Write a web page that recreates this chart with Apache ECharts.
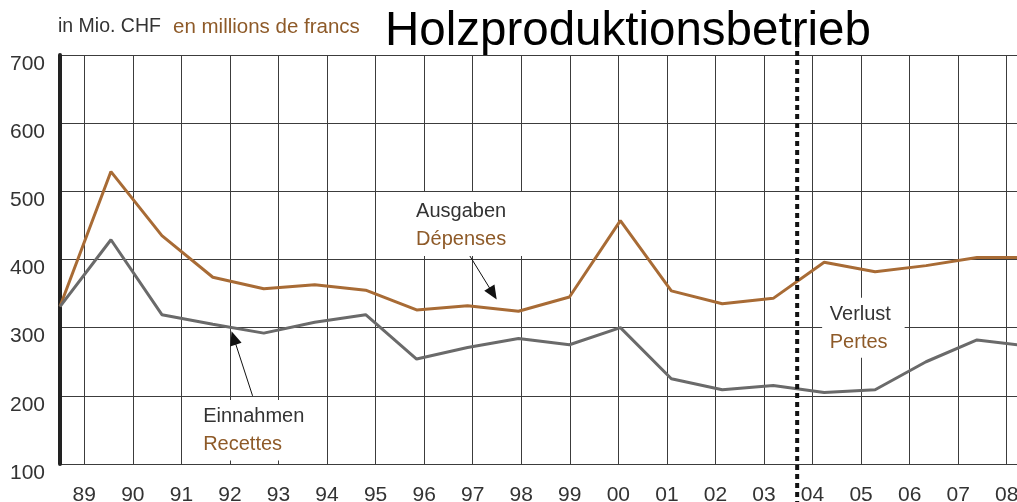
<!DOCTYPE html>
<html>
<head>
<meta charset="utf-8">
<script src="https://cdn.jsdelivr.net/npm/echarts@6/dist/echarts.min.js"></script>
<style>
html,body{margin:0;padding:0;background:#fff;overflow:hidden;}
#chart{width:1017px;height:502px;}
</style>
</head>
<body>
<div id="chart"></div>
<script>
// ---- data ----
const years = ['89','90','91','92','93','94','95','96','97','98','99','00','01','02','03','04','05','06','07','08'];
const ausgaben = [331, 529, 435, 374, 357, 363, 355, 326, 332, 324, 345, 457, 354, 335, 343, 396, 382, 391, 403, 403];
const einnahmen = [331, 429, 319, 305, 292, 308, 319, 254, 271, 284, 275, 300, 225, 209, 215, 205, 209, 250, 282, 273];
const yTicks = [100, 700, 100]; // min, max, interval
const lossStart = 14.47; // position of dotted separator (data index units)

// annotation anchors (data index units, values)
const annAusgaben = { text: ['Ausgaben', 'Dépenses'], at: [6.99, 470], box: [6.38, 499, 9.07, 405], arrow: [[8.03, 407], [8.50, 350]] };
const annEinnahmen = { text: ['Einnahmen', 'Recettes'], at: [2.81, 170], box: [2.55, 194, 5.06, 105], arrow: [[3.78, 200], [3.41, 285]] };
const annVerlust = { text: ['Verlust', 'Pertes'], at: [15.11, 319], box: [14.96, 344, 16.58, 256] };

const DARK = '#333333', BROWN = '#8E5A28', ORANGE = '#A86B35', GRAY = '#6A6A6A', GRID = '#3c3c3c';
const FONT = '"Liberation Sans", Arial, sans-serif';

// half-step slots so that labels/gridlines sit where the original has them
const slots = [];
for (let i = 0; i <= years.length * 2; i++) slots.push(i % 2 === 1 ? years[(i - 1) / 2] : '');

const chart = echarts.init(document.getElementById('chart'), null, { renderer: 'canvas' });

function arrowLine(a) {
  return [{ coord: a.arrow[0] }, { coord: a.arrow[1] }];
}

const option = {
  animation: false,
  backgroundColor: '#fff',
  grid: { left: 60, right: -14, top: 55, bottom: 38, containLabel: false, outerBoundsMode: 'none' },
  xAxis: [
    {
      type: 'category', data: slots, boundaryGap: false,
      axisLine: { show: false }, axisTick: { show: false },
      axisLabel: { interval: (i) => i % 2 === 1, color: DARK, fontSize: 21, fontFamily: FONT, margin: 21 },
      splitLine: { show: true, interval: (i) => i % 2 === 1, lineStyle: { color: GRID, width: 1 } }
    },
    {
      type: 'value', min: 0, max: 19.06, show: false
    }
  ],
  yAxis: {
    type: 'value', min: yTicks[0], max: yTicks[1], interval: yTicks[2],
    axisLine: { show: true, lineStyle: { color: '#222', width: 4 } },
    axisTick: { show: false },
    axisLabel: { color: DARK, fontSize: 21, fontFamily: FONT, margin: 15, verticalAlign: 'top', lineHeight: 18 },
    splitLine: { show: true, lineStyle: { color: GRID, width: 1 } }
  },
  series: [
    {
      name: 'Ausgaben', type: 'line', xAxisIndex: 1, yAxisIndex: 0,
      data: ausgaben.map((v, i) => [i, v]), symbol: 'none',
      lineStyle: { color: ORANGE, width: 3 }, z: 5,
      markLine: {
        silent: true, symbol: ['none', 'triangle'], symbolSize: [12, 14],
        label: { show: false },
        lineStyle: { color: '#111', width: 1, type: 'solid' },
        data: [arrowLine(annAusgaben)]
      }
    },
    {
      name: 'Einnahmen', type: 'line', xAxisIndex: 1, yAxisIndex: 0,
      data: einnahmen.map((v, i) => [i, v]), symbol: 'none',
      lineStyle: { color: GRAY, width: 3 }, z: 5,
      markLine: {
        silent: true, symbol: ['none', 'triangle'], symbolSize: [12, 14],
        label: { show: false },
        lineStyle: { color: '#111', width: 1, type: 'solid' },
        data: [arrowLine(annEinnahmen)]
      }
    }
  ]
};
chart.setOption(option);

function px(p) { return chart.convertToPixel({ seriesIndex: 0 }, p); }

const graphics = [];
// header texts
graphics.push({ type: 'text', z: 20, style: { text: 'in Mio. CHF', x: 58, y: 27, fill: DARK, fontSize: 19.5, fontFamily: FONT, verticalAlign: 'middle', align: 'left' } });
graphics.push({ type: 'text', z: 20, style: { text: 'en millions de francs', x: 173, y: 27, fill: BROWN, fontSize: 20.5, fontFamily: FONT, verticalAlign: 'middle', align: 'left' } });
graphics.push({ type: 'text', z: 20, style: { text: 'Holzproduktionsbetrieb', x: 385, y: 32, fill: '#000', fontSize: 47.5, fontFamily: FONT, verticalAlign: 'middle', align: 'left' } });

// dotted separator
const sepTop = px([lossStart, 700]);
graphics.push({ type: 'line', z: 15, shape: { x1: sepTop[0], y1: 33, x2: sepTop[0], y2: 502 }, style: { stroke: '#111', lineWidth: 4, lineDash: [5, 4] } });

[annAusgaben, annEinnahmen, annVerlust].forEach(a => {
  const b0 = px([a.box[0], a.box[1]]);
  const b1 = px([a.box[2], a.box[3]]);
  graphics.push({ type: 'rect', z: 10, shape: { x: b0[0], y: b0[1], width: b1[0] - b0[0], height: b1[1] - b0[1] }, style: { fill: '#fff' } });
  const t = px(a.at);
  graphics.push({ type: 'text', z: 12, style: { text: a.text[0], x: t[0], y: t[1], fill: DARK, fontSize: 20, fontFamily: FONT, verticalAlign: 'middle', align: 'left' } });
  graphics.push({ type: 'text', z: 12, style: { text: a.text[1], x: t[0], y: t[1] + 28, fill: BROWN, fontSize: 20, fontFamily: FONT, verticalAlign: 'middle', align: 'left' } });
});

chart.setOption({ graphic: graphics });
</script>
</body>
</html>
